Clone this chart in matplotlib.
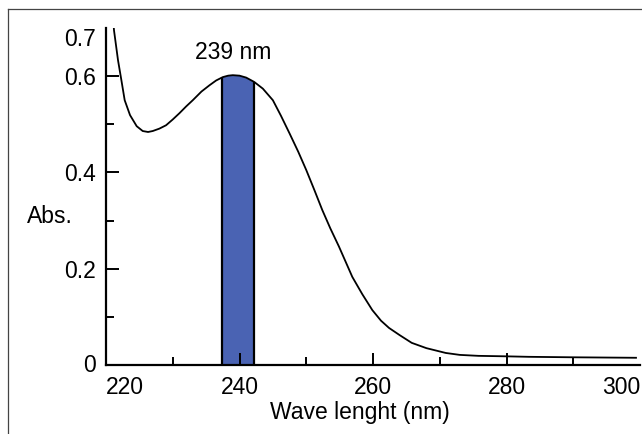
import numpy as np
import matplotlib
matplotlib.use("Agg")
import matplotlib.pyplot as plt
from matplotlib.lines import Line2D

plt.rcParams['font.family'] = ['Liberation Sans', 'DejaVu Sans']

# absorption spectrum
wavelength = [221.0, 221.2, 221.8, 222.3, 222.8, 223.6, 224.6, 225.5, 226.3, 227.0,
              228.0, 229.0, 230.0, 231.0, 232.0, 233.0, 234.3, 235.5, 236.5, 237.5,
              238.3, 239.0, 240.0, 241.0, 242.2, 243.5, 245.0, 246.2, 247.5, 248.8,
              250.0, 251.2, 252.4, 253.6, 254.9, 256.9, 258.4, 259.9, 261.2, 262.4,
              264.0, 265.8, 268.0, 270.9, 273.0, 275.8, 280.0, 283.3, 290.0, 299.4]
absorbance = [0.73, 0.695, 0.633, 0.592, 0.550, 0.519, 0.496, 0.486, 0.484, 0.486,
              0.491, 0.498, 0.510, 0.523, 0.537, 0.550, 0.568, 0.581, 0.591, 0.598,
              0.601, 0.602, 0.601, 0.597, 0.588, 0.574, 0.550, 0.518, 0.481, 0.443,
              0.405, 0.364, 0.322, 0.284, 0.246, 0.183, 0.147, 0.114, 0.092, 0.077,
              0.062, 0.046, 0.035, 0.025, 0.021, 0.019, 0.018, 0.017, 0.016, 0.015]

band = (237.4, 242.2)       # highlighted band around the maximum
peak_label = "239 nm"

x_ticks = [220, 240, 260, 280, 300]
x_labels = ["220", "240", "260", "280", "300"]
x_minor = [230, 250, 270, 290]
y_ticks = [0, 0.2, 0.4, 0.6, 0.7]
y_labels = ["0", "0.2", "0.4", "0.6", "0.7"]
y_minor = [0.1, 0.3, 0.5]

wl = np.array(wavelength)
ab = np.array(absorbance)

fig = plt.figure(figsize=(6.42, 4.34), dpi=100)
ax = fig.add_axes([106 / 642, 69 / 434, 534 / 642, 337 / 434])

# band under the curve, with black side edges
inside = (wl > band[0]) & (wl < band[1])
edge_h = np.interp(band, wl, ab)
bx = np.concatenate([[band[0]], wl[inside], [band[1]]])
by = np.concatenate([[edge_h[0]], ab[inside], [edge_h[1]]])
ax.fill_between(bx, 0, by, facecolor='#4a63b3', linewidth=0, zorder=1)
ax.vlines(band, 0, edge_h, color='black', linewidth=1.6, zorder=2)

ax.plot(wl, ab, color='black', linewidth=1.3, zorder=3)

ax.set_xlim(220, 300)
ax.set_ylim(0, 0.7)

for s in ['top', 'right']:
    ax.spines[s].set_visible(False)
for s in ['left', 'bottom']:
    ax.spines[s].set_linewidth(1.6)

ax.set_xticks(x_ticks)
ax.set_xticklabels(x_labels)
ax.set_xticks(x_minor, minor=True)
ax.set_yticks(y_ticks)
ax.set_yticklabels(y_labels)
ax.set_yticks(y_minor, minor=True)

ax.tick_params(which='both', direction='in', width=1.4, labelsize=16.5, colors='black')
ax.tick_params(which='major', length=9)
ax.tick_params(which='minor', length=6)
ax.tick_params(axis='x', pad=8)
ax.tick_params(axis='y', pad=7)

xt = ax.xaxis.get_major_ticks()
xt[0].tick1line.set_visible(False)
xt[-1].tick1line.set_visible(False)
xt[0].label1.set_horizontalalignment('left')
xt[-1].label1.set_horizontalalignment('right')
yt = ax.yaxis.get_major_ticks()
yt[0].tick1line.set_visible(False)
yt[0].label1.set_verticalalignment('center')
yt[-1].tick1line.set_visible(False)
yt[-1].label1.set_verticalalignment('top')

ax.text(239, 0.625, peak_label, ha='center', va='bottom', fontsize=16.5)

fig.text(50 / 642, 1 - 216 / 434, "Abs.", ha='center', va='center', fontsize=16.5)
fig.text(360 / 642, 1 - 412 / 434, "Wave lenght (nm)", ha='center', va='center', fontsize=16.5)

# frame lines of the original figure panel
fig.add_artist(Line2D([8 / 642, 8 / 642], [0, 1 - 9 / 434], color='#444444', linewidth=0.9))
fig.add_artist(Line2D([8 / 642, 1], [1 - 9 / 434, 1 - 9 / 434], color='#444444', linewidth=0.9))

fig.savefig("out.png", dpi=100)
